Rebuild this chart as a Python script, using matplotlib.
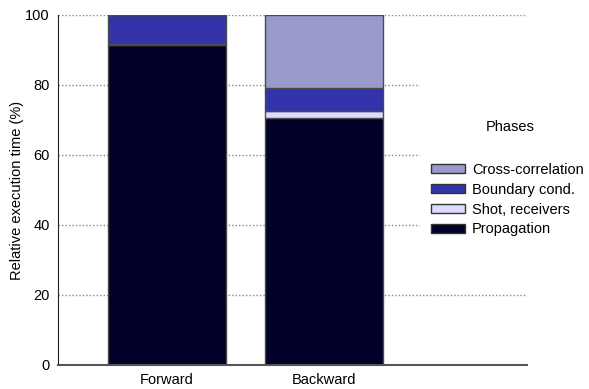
import matplotlib
matplotlib.use("Agg")
import matplotlib.pyplot as plt
from matplotlib.patches import Patch, Rectangle

# data
runs = ["Forward", "Backward"]
phases = ["Propagation", "Shot, receivers", "Boundary cond.", "Cross-correlation"]
propagation = [91.3, 70.6]
shot_receivers = [0.3, 2.1]
boundary_cond = [8.4, 6.5]
cross_correlation = [0.0, 20.8]
colors = ["#000028", "#DCDCFF", "#3333AA", "#9999CC"]
yticks = [0, 20, 40, 60, 80, 100]

plt.rcParams["font.family"] = ["Liberation Sans", "DejaVu Sans"]
fs = 10.5

fig = plt.figure(figsize=(5.89, 3.89), dpi=100)
ax = fig.add_axes([58 / 589, 24 / 389, 469 / 589, 350 / 389])

x = list(range(len(runs)))
bottom = [0.0, 0.0]
for vals, col in zip([propagation, shot_receivers, boundary_cond, cross_correlation], colors):
    ax.bar(x, vals, width=0.75, bottom=bottom, color=col, edgecolor="#4a4a4a",
           linewidth=1, zorder=2)
    bottom = [b + v for b, v in zip(bottom, vals)]

ax.set_xlim(-0.694, 2.293)
ax.set_ylim(0, 100)
ax.set_yticks(yticks)
ax.set_xticks(x)
ax.set_xticklabels(runs)
ax.tick_params(length=0, labelsize=fs, pad=6)
ax.set_ylabel("Relative execution time (%)", fontsize=fs, labelpad=1)
ax.yaxis.grid(True, linestyle=(0, (1, 1.5)), color="#888888", linewidth=1)
ax.set_axisbelow(True)
for s in ["top", "right"]:
    ax.spines[s].set_visible(False)
ax.spines["left"].set_color("#222222")
ax.spines["bottom"].set_color("#555555")
ax.spines["bottom"].set_linewidth(1.5)

# white block behind the legend hides the gridlines
ax.add_patch(Rectangle((0.772, 0.33), 0.4, 0.485, transform=ax.transAxes,
                       facecolor="white", edgecolor="none", zorder=1, clip_on=False))

handles = [Patch(facecolor=c, edgecolor="#333333", linewidth=1, label=p)
           for p, c in zip(phases, colors)][::-1]
fig.legend(handles=handles, loc="upper left", bbox_to_anchor=(431 / 589, 1 - 163 / 389),
           frameon=False, fontsize=fs, handlelength=2.3, handleheight=0.55,
           labelspacing=0.4, handletextpad=0.5, borderpad=0, borderaxespad=0)
fig.text(510 / 589, 1 - 127 / 389, "Phases", ha="center", va="center", fontsize=fs)

fig.savefig("out.png", dpi=100)
